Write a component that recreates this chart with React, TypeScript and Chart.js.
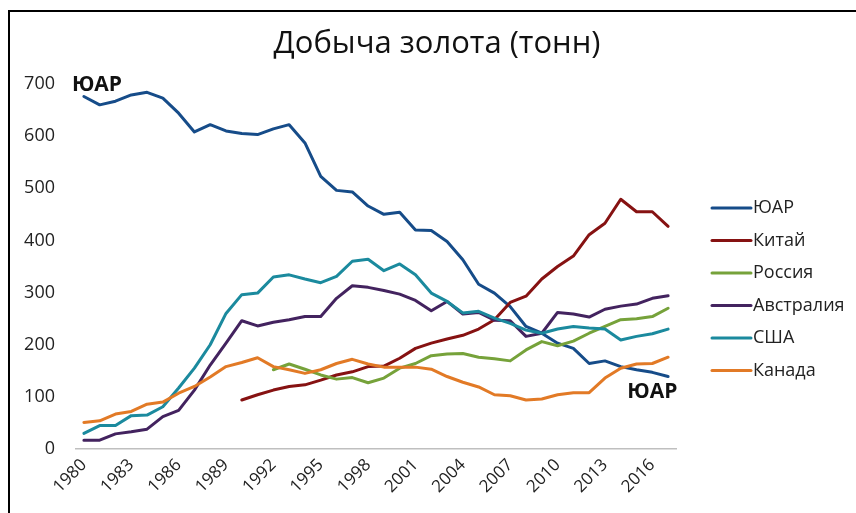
import React, { useEffect, useRef } from "react";
import { Chart, registerables } from "chart.js";

Chart.register(...registerables);

const chartTitle = "Добыча золота (тонн)";

const years = [
  "1980", "1981", "1982", "1983", "1984", "1985", "1986", "1987", "1988", "1989",
  "1990", "1991", "1992", "1993", "1994", "1995", "1996", "1997", "1998", "1999",
  "2000", "2001", "2002", "2003", "2004", "2005", "2006", "2007", "2008", "2009",
  "2010", "2011", "2012", "2013", "2014", "2015", "2016", "2017",
];

const seriesNames = ["ЮАР", "Китай", "Россия", "Австралия", "США", "Канада"];
const seriesColors = ["#164C89", "#861212", "#76A23A", "#43235F", "#1B8A9E", "#E27A26"];

const southAfrica = [
  676, 660, 667, 679, 684, 673, 644, 608, 622, 610,
  605, 603, 614, 622, 587, 523, 496, 493, 466, 450,
  454, 420, 419, 398, 363, 316, 299, 273, 235, 222,
  203, 193, 164, 169, 158, 152, 147, 139,
];
const china = [
  null, null, null, null, null, null, null, null, null, null,
  94, 104, 113, 120, 123, 132, 142, 148, 158, 159,
  174, 193, 203, 211, 218, 230, 248, 281, 293, 326,
  350, 370, 411, 433, 479, 455, 455, 427,
];
const russia = [
  null, null, null, null, null, null, null, null, null, null,
  null, null, 152, 163, 153, 142, 134, 137, 127, 136,
  155, 164, 179, 182, 183, 176, 173, 169, 190, 206,
  198, 207, 222, 235, 248, 250, 254, 270,
];
const australia = [
  17, 17, 29, 33, 38, 62, 74, 113, 161, 203,
  246, 236, 243, 248, 254, 254, 289, 313, 310, 304,
  297, 285, 265, 283, 259, 262, 247, 246, 216, 222,
  262, 259, 253, 268, 274, 278, 289, 294,
];
const usa = [
  30, 45, 45, 64, 65, 81, 117, 155, 200, 260,
  296, 299, 330, 334, 326, 319, 331, 360, 364, 342,
  355, 334, 299, 283, 261, 264, 251, 241, 228, 222,
  230, 235, 232, 230, 209, 216, 221, 230,
];
const canada = [
  51, 54, 67, 72, 86, 90, 107, 120, 138, 158,
  166, 175, 158, 152, 145, 152, 164, 172, 163, 157,
  157, 157, 153, 139, 128, 119, 104, 102, 94, 96,
  104, 108, 108, 136, 155, 163, 164, 176,
];
const seriesValues = [southAfrica, china, russia, australia, usa, canada];

const yMax = 700;
const yStep = 100;
const xLabelEvery = 3;

const annotationTexts = ["ЮАР", "ЮАР"];
const annotationYears = ["1980", "2016"];
const annotationValues = [700, 110];

const FONT = "'Open Sans', 'Noto Sans', sans-serif";

const overlayPlugin = {
  id: "overlay",
  afterDraw(chart: any) {
    const { ctx, chartArea, scales } = chart;
    ctx.save();
    // title
    ctx.fillStyle = "#111";
    ctx.font = `31px ${FONT}`;
    ctx.textAlign = "center";
    ctx.textBaseline = "middle";
    ctx.fillText(chartTitle, 437, 44);

    // annotations
    ctx.font = `bold 21px ${FONT}`;
    ctx.fillStyle = "#111";
    annotationTexts.forEach((t, i) => {
      const idx = years.indexOf(annotationYears[i]);
      const x = scales.x.getPixelForValue(idx);
      const y = scales.y.getPixelForValue(annotationValues[i]);
      if (i === 0) {
        ctx.textAlign = "left";
        ctx.fillText(t, x - 12, y + 1);
      } else {
        ctx.textAlign = "center";
        ctx.fillText(t, x, y);
      }
    });

    // legend
    const lx = chartArea.right + 36;
    const ly0 = 208;
    const step = 32.5;
    chart.data.datasets.forEach((ds: any, i: number) => {
      const y = ly0 + i * step;
      ctx.strokeStyle = ds.borderColor;
      ctx.lineWidth = 3;
      ctx.lineCap = "round";
      ctx.beginPath();
      ctx.moveTo(lx, y);
      ctx.lineTo(lx + 39, y);
      ctx.stroke();
      ctx.fillStyle = "#222";
      ctx.font = `18px ${FONT}`;
      ctx.textAlign = "left";
      ctx.textBaseline = "middle";
      ctx.fillText(ds.label, lx + 41, y);
    });
    ctx.restore();
  },
};

export default function App() {
  const ref = useRef<HTMLCanvasElement | null>(null);

  useEffect(() => {
    if (!ref.current) return;
    const chart = new Chart(ref.current, {
      type: "line",
      data: {
        labels: years,
        datasets: seriesNames.map((name, i) => ({
          label: name,
          data: seriesValues[i],
          borderColor: seriesColors[i],
          backgroundColor: seriesColors[i],
          borderWidth: 3,
          pointRadius: 0,
          tension: 0,
          borderJoinStyle: "round",
          borderCapStyle: "round",
          spanGaps: false,
          order: seriesNames.length - i,
        })),
      },
      options: {
        animation: false,
        responsive: false,
        layout: { padding: { top: 84, right: 180, bottom: 0, left: 0 } },
        plugins: {
          legend: { display: false },
          title: { display: false },
          tooltip: { enabled: false },
        },
        scales: {
          x: {
            offset: true,
            grid: { display: false, drawTicks: false },
            border: { display: true, color: "#BFBFBF", width: 1.5 },
            afterFit: (s: any) => { s.height = 64; },
            ticks: {
              autoSkip: false,
              maxRotation: 45,
              minRotation: 45,
              padding: 6,
              color: "#222",
              font: { family: FONT, size: 17 },
              callback: (_v: any, i: number) => (i % xLabelEvery === 0 ? years[i] : ""),
            },
          },
          y: {
            min: 0,
            max: yMax,
            grid: { display: false, drawTicks: false },
            border: { display: false },
            afterFit: (s: any) => { s.width = 76; },
            ticks: {
              stepSize: yStep,
              padding: 21,
              color: "#222",
              font: { family: FONT, size: 18 },
            },
          },
        },
      },
      plugins: [overlayPlugin],
    });
    return () => chart.destroy();
  }, []);

  return (
    <div style={{ position: "fixed", left: 0, top: 0, width: 856, height: 513, background: "#fff" }}>
      <canvas ref={ref} width={856} height={513} style={{ position: "absolute", left: 0, top: 0 }} />
      <div
        style={{
          position: "absolute",
          left: 8,
          top: 10,
          width: 860,
          height: 520,
          borderLeft: "2px solid #000",
          borderTop: "2px solid #000",
          pointerEvents: "none",
        }}
      />
    </div>
  );
}
